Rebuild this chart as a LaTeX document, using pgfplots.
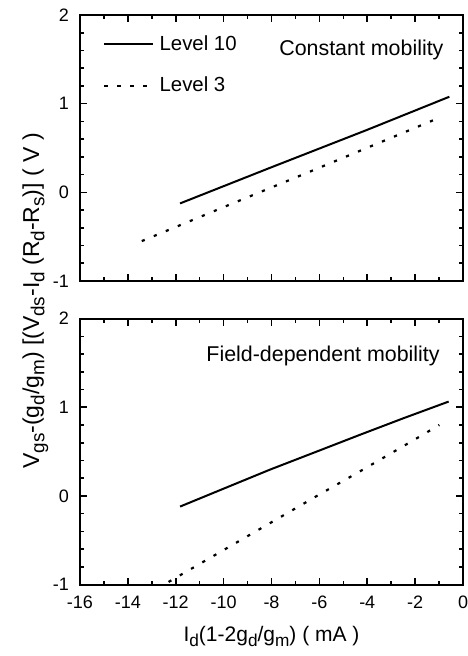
\documentclass[border=0pt]{standalone}
\usepackage{fontspec}
\setmainfont{Liberation Sans}
\usepackage{graphicx}
\usepackage{pgfplots}
\pgfplotsset{compat=1.18}
\newcommand\sub[1]{\raisebox{-0.45ex}{\scalebox{0.82}{#1}}}
\pgfplotsset{
  myax/.style={
    scale only axis, width=191.5pt, height=133pt,
    xmin=-16, xmax=0, ymin=-1, ymax=2,
    xtick={-16,-14,...,0}, minor x tick num=1,
    ytick={-1,0,1,2}, minor y tick num=4,
    tick align=inside, major tick length=3.5pt, minor tick length=2pt,
    axis line style={line width=1pt},
    every tick/.style={line width=0.8pt, black},
    every minor tick/.style={line width=0.8pt, black},
    tick label style={font=\fontsize{9}{10}\selectfont},
    /pgf/number format/assume math mode=true,
    yticklabel style={xshift=-2pt},
    xticklabel style={yshift=-2pt},
    clip=false,
  },
  l10/.style={black, line width=1pt},
  l3/.style={black, line width=1.1pt, dash pattern=on 1.6pt off 4.9pt},
}
\begin{document}
\begin{tikzpicture}
\useasboundingbox (-40pt,7.5pt) rectangle (193.5pt,-320.5pt);
\begin{axis}[myax, name=top, at={(0,0)}, anchor=north west,
  xticklabels={},
  legend style={draw=none, fill=none, at={(axis description cs:0.06,0.94)}, anchor=north west,
    font=\fontsize{10.2}{12}\selectfont, row sep=8pt, inner sep=0pt},
  legend cell align=left,
  legend image code/.code={\draw[#1] (0pt,0pt) -- (24.5pt,0pt); \path (25pt,0pt);},
]
\addplot[l10] coordinates {(-11.82,-0.125) (-8,0.283) (-4,0.705) (-0.57,1.078)};
\addlegendentry{Level 10}
\addplot[l3] coordinates {(-13.42,-0.55) (-10,-0.167) (-6.39,0.234) (-3,0.615) (-0.96,0.845)};
\addlegendentry{Level 3}
\node[anchor=base east, inner sep=0pt, font=\fontsize{10.7}{12}\selectfont] at (axis description cs:0.95,0.848) {Constant mobility};
\end{axis}
\begin{axis}[myax, name=bot, at={(top.south west)}, anchor=north west, yshift=-18.8pt,
  xlabel={I\sub{d}(1-2g\sub{d}/g\sub{m}) ( mA )},
  xlabel style={font=\fontsize{10.5}{12}\selectfont, yshift=-2pt},
]
\addplot[l10] coordinates {(-11.82,-0.12) (-10,0.082) (-8.06,0.297) (-6,0.512) (-4.3,0.69) (-2.5,0.875) (-0.6,1.064)};
\addplot[l3] coordinates {(-12.3,-0.97) (-10,-0.61) (-8,-0.297) (-6,0.016) (-4.3,0.278) (-2.5,0.56) (-0.99,0.80)};
\node[anchor=base east, inner sep=0pt, font=\fontsize{10.7}{12}\selectfont] at (axis description cs:0.94,0.838) {Field-dependent mobility};
\end{axis}
\node[rotate=90, anchor=base, inner sep=0pt, font=\fontsize{11.5}{12}\selectfont] at (-20.5pt,-143pt)
  {V\sub{gs}-(g\sub{d}/g\sub{m}) [(V\sub{ds}-I\sub{d} (R\sub{d}-R\sub{s})] ( V )};
\end{tikzpicture}
\end{document}
